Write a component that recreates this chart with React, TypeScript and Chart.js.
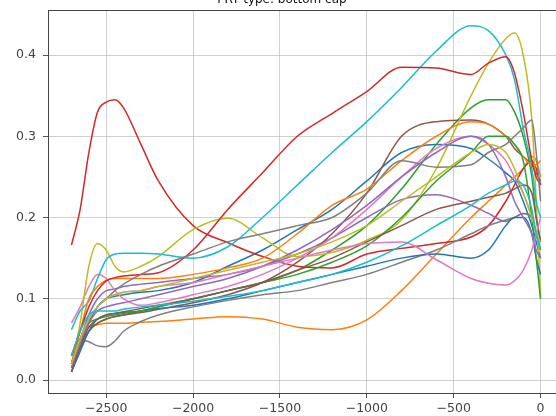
import React, { useEffect, useRef } from 'react';
import { Chart, registerables } from 'chart.js';

Chart.register(...registerables);

const TITLE = 'PRT type: bottom cap';

const X = [-2700, -2650, -2600, -2550, -2500, -2450, -2400, -2300, -2200, -2000, -1800, -1600, -1400, -1200, -1000, -800, -600, -400, -300, -200, -150, -100, -50, -25, 0];

const X_TICKS = [-2500, -2000, -1500, -1000, -500, 0];
const Y_TICKS = [0, 0.1, 0.2, 0.3, 0.4];

const blue1 = [0.01, 0.04, 0.07, 0.09, 0.1, 0.103, 0.105, 0.108, 0.11, 0.12, 0.14, 0.16, 0.185, 0.21, 0.245, 0.28, 0.29, 0.285, 0.272, 0.255, 0.245, 0.22, 0.19, 0.17, 0.15];
const orange1 = [0.02, 0.05, 0.065, 0.068, 0.07, 0.07, 0.07, 0.071, 0.072, 0.075, 0.078, 0.075, 0.065, 0.062, 0.074, 0.11, 0.155, 0.2, 0.22, 0.24, 0.25, 0.26, 0.275, 0.27, 0.25];
const green1 = [0.015, 0.04, 0.06, 0.07, 0.075, 0.078, 0.08, 0.085, 0.09, 0.1, 0.11, 0.12, 0.135, 0.16, 0.19, 0.235, 0.29, 0.335, 0.345, 0.345, 0.33, 0.3, 0.25, 0.2, 0.17];
const red1 = [0.166, 0.21, 0.28, 0.33, 0.342, 0.345, 0.335, 0.29, 0.245, 0.19, 0.169, 0.152, 0.14, 0.138, 0.155, 0.162, 0.168, 0.176, 0.19, 0.22, 0.24, 0.26, 0.27, 0.26, 0.24];
const purple1 = [0.02, 0.05, 0.08, 0.1, 0.11, 0.112, 0.115, 0.118, 0.12, 0.125, 0.13, 0.14, 0.155, 0.175, 0.2, 0.222, 0.228, 0.215, 0.205, 0.195, 0.2, 0.205, 0.2, 0.18, 0.16];
const brown1 = [0.015, 0.04, 0.06, 0.07, 0.075, 0.078, 0.08, 0.083, 0.087, 0.095, 0.105, 0.12, 0.145, 0.18, 0.23, 0.3, 0.318, 0.32, 0.315, 0.3, 0.285, 0.275, 0.265, 0.255, 0.245];
const pink1 = [0.07, 0.09, 0.115, 0.13, 0.125, 0.11, 0.1, 0.092, 0.095, 0.105, 0.115, 0.13, 0.15, 0.175, 0.21, 0.25, 0.285, 0.3, 0.29, 0.27, 0.25, 0.23, 0.2, 0.18, 0.16];
const gray1 = [0.03, 0.05, 0.047, 0.042, 0.041, 0.048, 0.06, 0.072, 0.08, 0.09, 0.098, 0.105, 0.11, 0.12, 0.13, 0.145, 0.16, 0.18, 0.19, 0.197, 0.2, 0.205, 0.2, 0.18, 0.16];
const olive1 = [0.02, 0.07, 0.14, 0.168, 0.16, 0.14, 0.133, 0.14, 0.152, 0.185, 0.199, 0.175, 0.152, 0.157, 0.172, 0.197, 0.26, 0.35, 0.39, 0.42, 0.427, 0.4, 0.32, 0.22, 0.1];
const cyan1 = [0.062, 0.085, 0.097, 0.125, 0.148, 0.155, 0.156, 0.156, 0.155, 0.15, 0.164, 0.2, 0.24, 0.28, 0.318, 0.36, 0.405, 0.436, 0.43, 0.4, 0.37, 0.31, 0.26, 0.22, 0.2];
const blue2 = [0.01, 0.035, 0.06, 0.075, 0.08, 0.082, 0.083, 0.085, 0.088, 0.092, 0.1, 0.11, 0.12, 0.13, 0.14, 0.15, 0.155, 0.15, 0.16, 0.19, 0.2, 0.2, 0.18, 0.15, 0.13];
const orange2 = [0.02, 0.06, 0.1, 0.115, 0.123, 0.125, 0.125, 0.125, 0.125, 0.13, 0.138, 0.15, 0.18, 0.215, 0.235, 0.27, 0.3, 0.318, 0.315, 0.3, 0.29, 0.275, 0.265, 0.265, 0.27];
const green2 = [0.02, 0.05, 0.07, 0.075, 0.078, 0.08, 0.082, 0.085, 0.09, 0.1, 0.11, 0.12, 0.13, 0.145, 0.165, 0.2, 0.245, 0.28, 0.3, 0.3, 0.29, 0.27, 0.2, 0.15, 0.1];
const red2 = [0.03, 0.06, 0.09, 0.11, 0.122, 0.126, 0.128, 0.13, 0.132, 0.16, 0.21, 0.255, 0.3, 0.328, 0.355, 0.385, 0.384, 0.376, 0.39, 0.398, 0.378, 0.33, 0.27, 0.25, 0.24];
const purple2 = [0.015, 0.045, 0.07, 0.085, 0.09, 0.093, 0.095, 0.1, 0.105, 0.115, 0.125, 0.14, 0.16, 0.185, 0.215, 0.25, 0.28, 0.3, 0.29, 0.25, 0.22, 0.2, 0.18, 0.16, 0.15];
const brown2 = [0.01, 0.04, 0.065, 0.075, 0.08, 0.082, 0.084, 0.088, 0.092, 0.1, 0.11, 0.12, 0.135, 0.15, 0.17, 0.19, 0.21, 0.22, 0.225, 0.23, 0.235, 0.24, 0.23, 0.2, 0.17];
const pink2 = [0.02, 0.05, 0.075, 0.09, 0.1, 0.105, 0.108, 0.11, 0.115, 0.12, 0.13, 0.14, 0.15, 0.16, 0.168, 0.17, 0.148, 0.125, 0.119, 0.117, 0.122, 0.135, 0.16, 0.18, 0.2];
const gray2 = [0.02, 0.05, 0.075, 0.09, 0.1, 0.11, 0.118, 0.13, 0.14, 0.155, 0.17, 0.18, 0.19, 0.2, 0.23, 0.27, 0.262, 0.265, 0.28, 0.29, 0.3, 0.31, 0.32, 0.28, 0.22];
const olive2 = [0.02, 0.05, 0.075, 0.09, 0.1, 0.105, 0.108, 0.11, 0.115, 0.125, 0.135, 0.145, 0.155, 0.17, 0.19, 0.22, 0.25, 0.28, 0.29, 0.28, 0.26, 0.23, 0.2, 0.18, 0.17];
const cyan2 = [0.03, 0.06, 0.08, 0.085, 0.085, 0.085, 0.087, 0.09, 0.092, 0.097, 0.103, 0.11, 0.12, 0.13, 0.145, 0.165, 0.19, 0.215, 0.23, 0.24, 0.245, 0.24, 0.21, 0.18, 0.16];

const SERIES = [blue1, orange1, green1, red1, purple1, brown1, pink1, gray1, olive1, cyan1,
  blue2, orange2, green2, red2, purple2, brown2, pink2, gray2, olive2, cyan2];

const COLORS = ['#1f77b4', '#ff7f0e', '#2ca02c', '#d62728', '#9467bd', '#8c564b', '#e377c2', '#7f7f7f', '#bcbd22', '#17becf'];

const FONT = 'DejaVu Sans';

const frame = {
  id: 'frame',
  afterDraw(chart: any) {
    const { ctx, chartArea } = chart;
    ctx.save();
    ctx.strokeStyle = '#444';
    ctx.lineWidth = 1;
    ctx.strokeRect(chartArea.left + 0.5, chartArea.top + 0.5, chartArea.right - chartArea.left, chartArea.bottom - chartArea.top);
    ctx.restore();
  },
};

const fmt = (v: number) => (v < 0 ? '\u2212' + Math.abs(v) : String(v));

export default function App() {
  const ref = useRef<HTMLCanvasElement>(null);
  useEffect(() => {
    const datasets = SERIES.map((ys, i) => ({
      data: X.map((x, j) => ({ x, y: ys[j] })),
      borderColor: COLORS[i % 10],
      backgroundColor: COLORS[i % 10],
      borderWidth: 1.5,
      pointRadius: 0,
      fill: false,
      cubicInterpolationMode: 'monotone' as const,
      order: SERIES.length - i,
    }));
    const chart = new Chart(ref.current!, {
      type: 'line',
      data: { datasets },
      plugins: [frame],
      options: {
        animation: false,
        responsive: false,
        devicePixelRatio: 1,
        layout: { padding: 0 },
        plugins: {
          legend: { display: false },
          tooltip: { enabled: false },
          title: {
            display: true,
            text: TITLE,
            color: '#111',
            font: { family: FONT, size: 12, weight: 'normal' },
            padding: { top: 5, bottom: 2.6 },
          },
        },
        scales: {
          x: {
            type: 'linear',
            min: -2835,
            max: 135,
            afterBuildTicks: (s: any) => { s.ticks = X_TICKS.map((v) => ({ value: v })); },
            afterFit: (s: any) => { s.height = 27; },
            ticks: { callback: (v: any) => fmt(Number(v)), color: '#444', font: { family: FONT, size: 12.5 }, padding: 3, maxRotation: 0, autoSkip: false },
            grid: { color: 'rgba(176,176,176,0.6)', tickColor: '#555', tickLength: 5 },
            border: { display: true, color: '#444' },
          },
          y: {
            type: 'linear',
            min: -0.016,
            max: 0.4554,
            afterBuildTicks: (s: any) => { s.ticks = Y_TICKS.map((v) => ({ value: v })); },
            afterFit: (s: any) => { s.width = 48; },
            ticks: { callback: (v: any) => Number(v).toFixed(1), color: '#444', font: { family: FONT, size: 12.5 }, padding: 7 },
            grid: { color: 'rgba(176,176,176,0.6)', tickColor: '#555', tickLength: 5 },
            border: { display: true, color: '#444' },
          },
        },
      },
    } as any);
    return () => chart.destroy();
  }, []);
  return (
    <div style={{ position: 'fixed', left: 0, top: 0, width: 556, height: 416, overflow: 'hidden', background: '#fff' }}>
      <div style={{ position: 'absolute', left: 0, top: -12, width: 564, height: 432 }}>
        <canvas ref={ref} width={564} height={432} style={{ display: 'block' }} />
      </div>
    </div>
  );
}
